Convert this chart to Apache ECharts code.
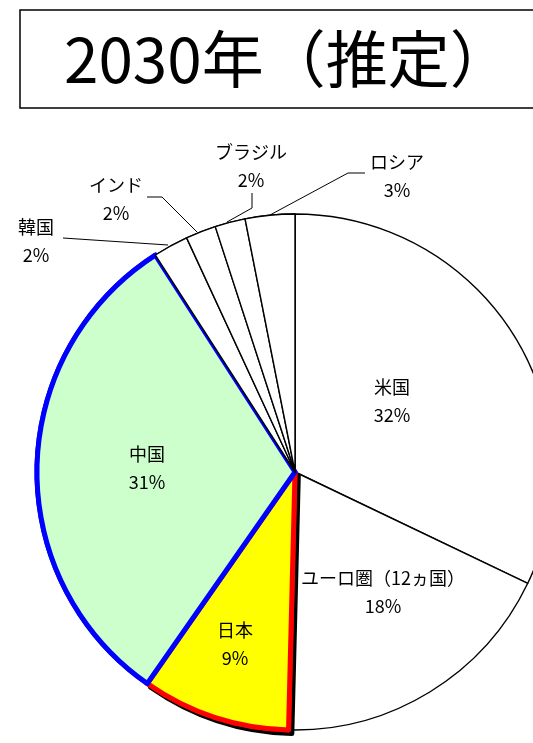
<!DOCTYPE html>
<html>
<head>
<meta charset="utf-8">
<script src="https://cdn.jsdelivr.net/npm/echarts@6/dist/echarts.min.js"></script>
<style>
html,body{margin:0;padding:0;background:#fff;}
#c{width:533px;height:743px;}
</style>
</head>
<body>
<div id="c"></div>
<script>
// ---- data ----
var titleText = '2030年（推定）';
var categories = ['米国', 'ユーロ圏（12ヵ国）', '日本', '中国', '韓国', 'インド', 'ブラジル', 'ロシア'];
var values = [32.1, 18.3, 9.3, 31.2, 2.2, 1.9, 1.9, 3.1];
var percentLabels = ['32%', '18%', '9%', '31%', '2%', '2%', '2%', '3%'];

// ---- styles / layout (not data) ----
var fills = ['#ffffff', '#ffffff', '#ffff00', '#ccffcc', '#ffffff', '#ffffff', '#ffffff', '#ffffff'];
var borders = ['#000', '#000', '#ff0000', '#0000ff', '#000', '#000', '#000', '#000'];
var borderWidths = [1.4, 1.4, 5, 5, 1.4, 1.4, 1.4, 1.4];
var insideLabel = [true, true, true, true, false, false, false, false];
var labelPos = [[392, 401], [383, 592], [235, 644], [147, 468], [36, 241], [116, 199], [251, 166], [397, 176]];
var linePts = [null, null, null, null,
  [[168, 245], [63, 238]],
  [[197, 232], [162, 197], [147, 197]],
  [[227, 222], [252, 208], [252, 193]],
  [[270, 215], [348, 173], [365, 173]]
];
// slices whose fill is left out of the top layer (so the drop shadow stays visible)
var topLayerSkip = [true, true, false, false, false, false, false, false];
var shadowIdx = 2;

var FONT = '"Noto Sans CJK JP", "Noto Sans", sans-serif';

function baseItems(layer) {
  return categories.map(function (name, i) {
    var item = { name: name, value: values[i] };
    if (layer === 'bottom') {
      item.itemStyle = { color: fills[i], borderColor: borders[i], borderWidth: borderWidths[i] };
      if (i === shadowIdx) {
        item.itemStyle.shadowColor = '#000';
        item.itemStyle.shadowOffsetX = 3.3;
        item.itemStyle.shadowOffsetY = 3.7;
        item.itemStyle.shadowBlur = 0;
      }
    } else {
      if (topLayerSkip[i]) {
        item.itemStyle = { color: 'rgba(0,0,0,0)', borderWidth: 0 };
      } else {
        item.itemStyle = { color: fills[i], borderColor: borders[i], borderWidth: borderWidths[i] };
      }
      item.label = { position: insideLabel[i] ? 'inside' : 'outside' };
      item.labelLine = { show: !insideLabel[i] };
    }
    return item;
  });
}

var common = {
  type: 'pie',
  center: [295, 472],
  radius: 258,
  startAngle: 90,
  clockwise: true,
  avoidLabelOverlap: false,
  silent: true,
  emphasis: { disabled: true, scale: false }
};

var chart = echarts.init(document.getElementById('c'), null, { renderer: 'canvas' });
chart.setOption({
  animation: false,
  backgroundColor: '#fff',
  title: {
    text: titleText,
    left: 20,
    top: 10,
    padding: [13, 220, 13, 44],
    borderColor: '#000',
    borderWidth: 1.5,
    textStyle: {
      fontFamily: FONT,
      fontSize: 62,
      fontWeight: 'normal',
      color: '#000',
      lineHeight: 72
    }
  },
  series: [
    Object.assign({}, common, {
      z: 2,
      label: { show: false },
      labelLine: { show: false },
      data: baseItems('bottom')
    }),
    Object.assign({}, common, {
      z: 3,
      data: baseItems('top'),
      label: {
        show: true,
        formatter: function (p) { return p.name + '\n' + percentLabels[p.dataIndex]; },
        fontFamily: FONT,
        fontSize: 18,
        lineHeight: 28,
        color: '#000',
        align: 'center'
      },
      labelLine: {
        show: true,
        lineStyle: { color: '#000', width: 1 },
        length: 10,
        length2: 10
      },
      labelLayout: function (params) {
        var i = params.dataIndex;
        var o = {
          x: labelPos[i][0],
          y: labelPos[i][1],
          align: 'center',
          verticalAlign: 'middle'
        };
        if (linePts[i]) o.labelLinePoints = linePts[i];
        return o;
      }
    })
  ]
});
</script>
</body>
</html>
